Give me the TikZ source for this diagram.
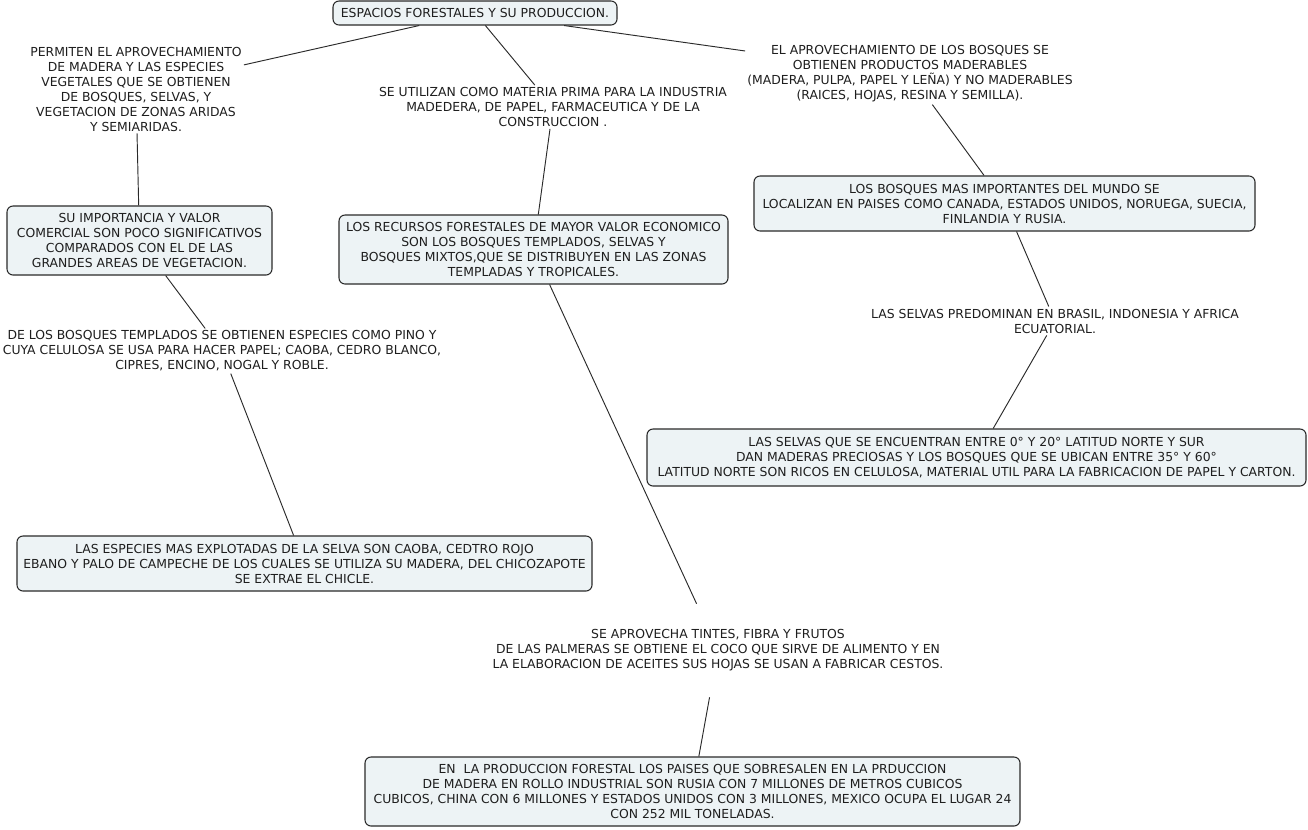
\documentclass[tikz,border=0pt]{standalone}
\usepackage{fontspec}
\setmainfont{DejaVu Sans}
\definecolor{boxfill}{HTML}{EDF3F5}
\definecolor{edge}{HTML}{2A2A2A}
\definecolor{ink}{HTML}{1E1E1E}
\begin{document}
\begin{tikzpicture}[x=0.75pt,y=-0.75pt,
  every node/.style={font=\fontsize{9.3}{11.25}\selectfont, text=ink, align=center},
  conbox/.style={draw=edge, fill=boxfill, line width=0.8pt, rounded corners=4.5pt, inner sep=0pt},
  plain/.style={inner sep=1.5pt},
  link/.style={draw=edge, line width=0.7pt}]
\useasboundingbox (0,0) rectangle (1308,829);
\fill[white] (0,0) rectangle (1308,829);

\node[conbox, minimum width=213pt, minimum height=18pt] (t) at (475,13) {ESPACIOS FORESTALES Y SU PRODUCCION.};

\node[plain] (a) at (136,89) {PERMITEN EL APROVECHAMIENTO\\DE MADERA Y LAS ESPECIES\\VEGETALES QUE SE OBTIENEN\\DE BOSQUES, SELVAS, Y\\VEGETACION DE ZONAS ARIDAS\\Y SEMIARIDAS.};
\node[plain] (b) at (553,107) {SE UTILIZAN COMO MATERIA PRIMA PARA LA INDUSTRIA\\MADEDERA, DE PAPEL, FARMACEUTICA Y DE LA\\CONSTRUCCION .};
\node[plain] (c) at (910,74) {EL APROVECHAMIENTO DE LOS BOSQUES SE\\OBTIENEN PRODUCTOS MADERABLES\\(MADERA, PULPA, PAPEL Y LEÑA) Y NO MADERABLES\\(RAICES, HOJAS, RESINA Y SEMILLA).};

\node[conbox, minimum width=198.75pt, minimum height=51.75pt] (su) at (139.5,240.5) {SU IMPORTANCIA Y VALOR\\COMERCIAL SON POCO SIGNIFICATIVOS\\COMPARADOS CON EL DE LAS\\GRANDES AREAS DE VEGETACION.};
\node[conbox, minimum width=291.75pt, minimum height=51.75pt] (rec) at (533.5,249.5) {LOS RECURSOS FORESTALES DE MAYOR VALOR ECONOMICO\\SON LOS BOSQUES TEMPLADOS, SELVAS Y\\BOSQUES MIXTOS,QUE SE DISTRIBUYEN EN LAS ZONAS\\TEMPLADAS Y TROPICALES.};
\node[conbox, minimum width=375.75pt, minimum height=41.25pt] (bm) at (1004.5,203.5) {LOS BOSQUES MAS IMPORTANTES DEL MUNDO SE\\LOCALIZAN EN PAISES COMO CANADA, ESTADOS UNIDOS, NORUEGA, SUECIA,\\FINLANDIA Y RUSIA.};

\node[plain] (d) at (1055,321) {LAS SELVAS PREDOMINAN EN BRASIL, INDONESIA Y AFRICA\\ECUATORIAL.};
\node[plain] (e) at (222,351) {DE LOS BOSQUES TEMPLADOS SE OBTIENEN ESPECIES COMO PINO Y\\CUYA CELULOSA SE USA PARA HACER PAPEL; CAOBA, CEDRO BLANCO,\\CIPRES, ENCINO, NOGAL Y ROBLE.};

\node[conbox, minimum width=494.25pt, minimum height=42.75pt] (sq) at (976.5,457.5) {LAS SELVAS QUE SE ENCUENTRAN ENTRE 0° Y 20° LATITUD NORTE Y SUR\\DAN MADERAS PRECIOSAS Y LOS BOSQUES QUE SE UBICAN ENTRE 35° Y 60°\\LATITUD NORTE SON RICOS EN CELULOSA, MATERIAL UTIL PARA LA FABRICACION DE PAPEL Y CARTON.};
\node[conbox, minimum width=431.25pt, minimum height=41.25pt] (esp) at (304.5,563.5) {LAS ESPECIES MAS EXPLOTADAS DE LA SELVA SON CAOBA, CEDTRO ROJO\\EBANO Y PALO DE CAMPECHE DE LOS CUALES SE UTILIZA SU MADERA, DEL CHICOZAPOTE\\SE EXTRAE EL CHICLE.};

\node[plain, minimum height=69.75pt] (f) at (718,650.5) {SE APROVECHA TINTES, FIBRA Y FRUTOS\\DE LAS PALMERAS SE OBTIENE EL COCO QUE SIRVE DE ALIMENTO Y EN\\LA ELABORACION DE ACEITES SUS HOJAS SE USAN A FABRICAR CESTOS.};

\node[conbox, minimum width=491.25pt, minimum height=51.75pt] (pr) at (692.5,791.5) {EN\ \ LA PRODUCCION FORESTAL LOS PAISES QUE SOBRESALEN EN LA PRDUCCION\\DE MADERA EN ROLLO INDUSTRIAL SON RUSIA CON 7 MILLONES DE METROS CUBICOS\\CUBICOS, CHINA CON 6 MILLONES Y ESTADOS UNIDOS CON 3 MILLONES, MEXICO OCUPA EL LUGAR 24\\CON 252 MIL TONELADAS.};

\path[link] (t) -- (a);
\path[link] (t) -- (b);
\path[link] (t) -- (c);
\path[link] (a) -- (su);
\path[link] (b) -- (rec);
\path[link] (c) -- (bm);
\path[link] (bm) -- (d);
\path[link] (d) -- (sq);
\path[link] (su) -- (e);
\path[link] (e) -- (esp);
\path[link] (rec) -- (f);
\path[link] (f) -- (pr);
\end{tikzpicture}
\end{document}
